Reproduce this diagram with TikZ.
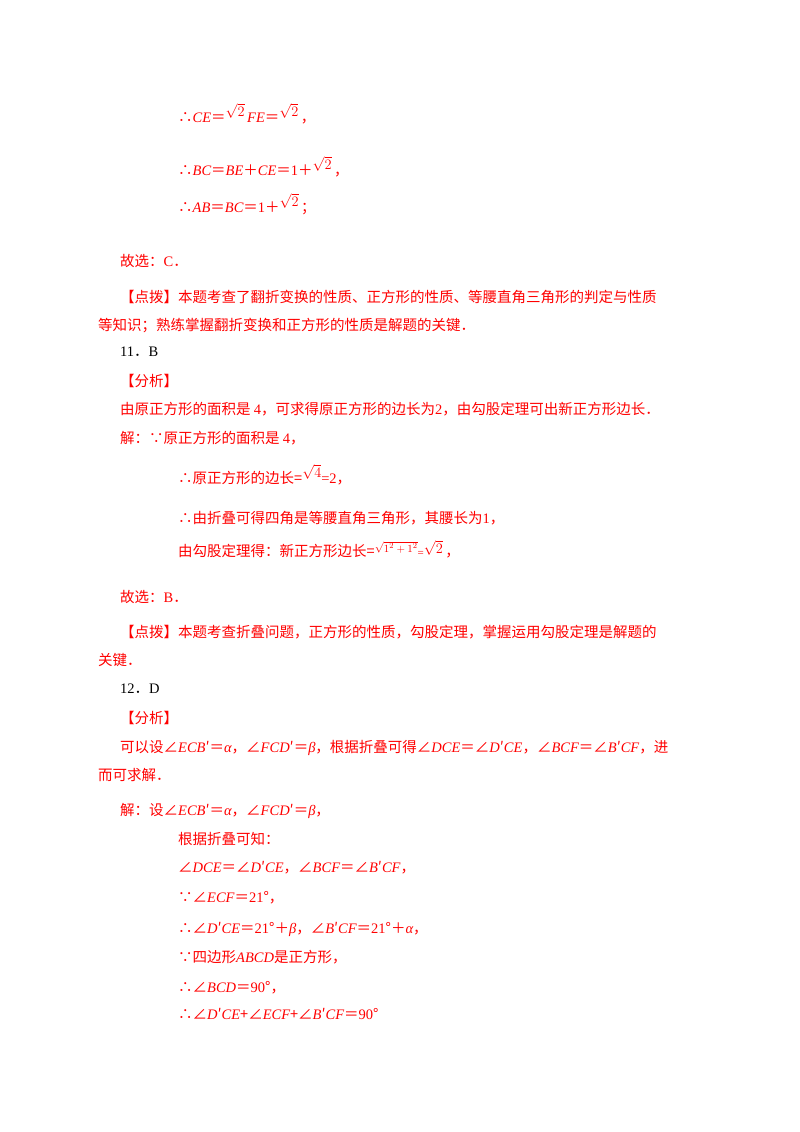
\documentclass[tikz,border=0pt]{standalone}
\usepackage{fontspec}
\setmainfont{Noto Sans CJK SC}
\newfontfamily\lat{Liberation Serif}
\newcommand{\vv}[1]{{\lat\itshape #1}}
\newcommand{\rt}[1]{\raisebox{6pt}{\lat$\sqrt{#1}$}}
\begin{document}
\begin{tikzpicture}[x=1pt,y=-1pt,
  t/.style={anchor=base west,inner sep=0pt,text=red,font=\fontsize{14.5}{16}\selectfont},
  k/.style={t,text=black}]
\useasboundingbox (0,0) rectangle (800,1132);
\node[t] (l1) at (178,122) {∴\vv{CE}＝\rt{2}\,\vv{FE}＝\rt{2}\,，};
\node[t] (l2) at (178,175) {∴\vv{BC}＝\vv{BE}＋\vv{CE}＝{\lat 1}＋\rt{2}\,，};
\node[t] (l3) at (178,212) {∴\vv{AB}＝\vv{BC}＝{\lat 1}＋\rt{2}\,；};
\node[t] (l4) at (120,266) {故选：{\lat C}．};
\node[t] (l5) at (120,302) {【点拨】本题考查了翻折变换的性质、正方形的性质、等腰直角三角形的判定与性质};
\node[t] (l6) at (98,330) {等知识；熟练掌握翻折变换和正方形的性质是解题的关键．};
\node[k] (l7) at (120,356) {{\lat 11}．{\lat B}};
\node[t] (l8) at (120,386) {【分析】};
\node[t] (l9) at (120,414) {由原正方形的面积是 {\lat 4}，可求得原正方形的边长为{\lat 2}，由勾股定理可出新正方形边长．};
\node[t] (l10) at (120,443) {解：∵原正方形的面积是 {\lat 4}，};
\node[t] (l11) at (178,483) {∴原正方形的边长=\rt{4}{\lat =2}，};
\node[t] (l12) at (178,523) {∴由折叠可得四角是等腰直角三角形，其腰长为{\lat 1}，};
\node[t] (l13) at (178,556) {由勾股定理得：新正方形边长=\raisebox{4pt}{\lat\fontsize{11}{12}\selectfont$\sqrt{1^2+1^2}$}{\lat\fontsize{11}{12}\selectfont =}\raisebox{3pt}{\lat$\sqrt{2}$}\,，};
\node[t] (l14) at (120,602) {故选：{\lat B}．};
\node[t] (l15) at (120,637) {【点拨】本题考查折叠问题，正方形的性质，勾股定理，掌握运用勾股定理是解题的};
\node[t] (l16) at (98,665) {关键．};
\node[k] (l17) at (120,693) {{\lat 12}．{\lat D}};
\node[t] (l18) at (120,723) {【分析】};
\node[t] (l19) at (120,752) {可以设∠\vv{ECB}′＝\vv{α}，∠\vv{FCD}′＝\vv{β}，根据折叠可得∠\vv{DCE}＝∠\vv{D}′\vv{CE}，∠\vv{BCF}＝∠\vv{B}′\vv{CF}，进};
\node[t] (l20) at (98,780) {而可求解．};
\node[t] (l21) at (120,815) {解：设∠\vv{ECB}′＝\vv{α}，∠\vv{FCD}′＝\vv{β}，};
\node[t] (l22) at (178,844) {根据折叠可知：};
\node[t] (l23) at (178,872) {∠\vv{DCE}＝∠\vv{D}′\vv{CE}，∠\vv{BCF}＝∠\vv{B}′\vv{CF}，};
\node[t] (l24) at (178,902) {∵∠\vv{ECF}＝{\lat 21}°，};
\node[t] (l25) at (178,933) {∴∠\vv{D}′\vv{CE}＝{\lat 21}°＋\vv{β}，∠\vv{B}′\vv{CF}＝{\lat 21}°＋\vv{α}，};
\node[t] (l26) at (178,962) {∵四边形\vv{ABCD}是正方形，};
\node[t] (l27) at (178,992) {∴∠\vv{BCD}＝{\lat 90}°，};
\node[t] (l28) at (178,1019) {∴∠\vv{D}′\vv{CE}+∠\vv{ECF}+∠\vv{B}′\vv{CF}＝{\lat 90}°};
\end{tikzpicture}
\end{document}
